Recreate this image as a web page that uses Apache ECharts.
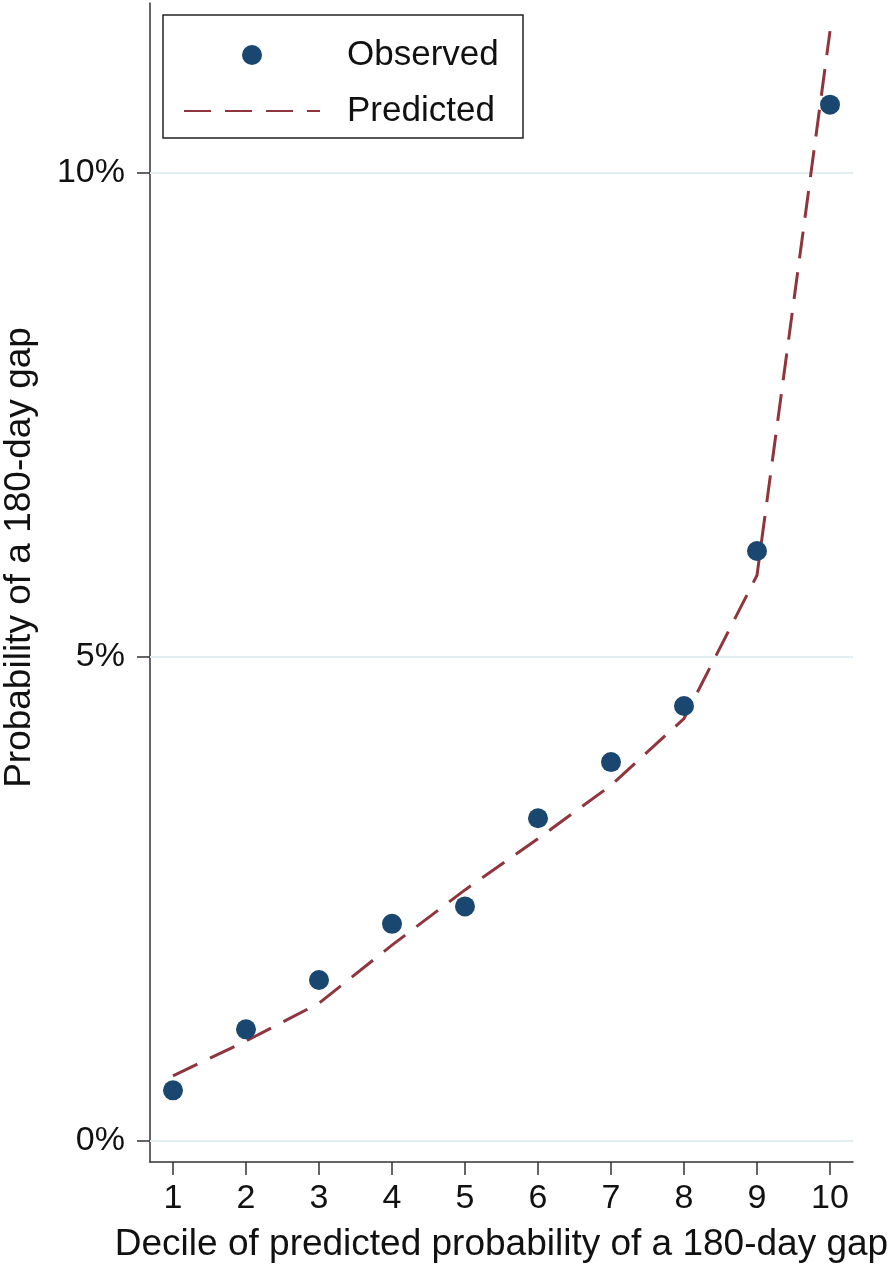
<!DOCTYPE html>
<html>
<head>
<meta charset="utf-8">
<script src="https://cdn.jsdelivr.net/npm/echarts@6/dist/echarts.min.js"></script>
<style>
  html, body { margin: 0; padding: 0; background: #fff; }
  #chart { width: 893px; height: 1264px; }
</style>
</head>
<body>
<div id="chart"></div>
<script>
// deciles of predicted probability
const deciles = [1, 2, 3, 4, 5, 6, 7, 8, 9, 10]
// observed share with a 180-day gap (%)
const observed = [0.52, 1.15, 1.66, 2.24, 2.42, 3.33, 3.91, 4.49, 6.09, 10.70]
// model prediction (%)
const predicted = [0.67, 1.03, 1.42, 2.02, 2.59, 3.12, 3.67, 4.36, 5.84, 11.46]
// y tick labels
const yTicks = [0, 5, 10]

const font = 'Liberation Sans, Arial, sans-serif'
const chart = echarts.init(document.getElementById('chart'))

const option = {
  animation: false,
  backgroundColor: '#fff',
  textStyle: { fontFamily: font, color: '#111' },
  grid: { left: 150, right: 40, top: 3, bottom: 102, outerBoundsMode: 'none' },
  graphic: [
    {
      type: 'rect',
      shape: { x: 163, y: 15, width: 360, height: 123 },
      style: { fill: 'none', stroke: '#222', lineWidth: 1.5 },
      z: 1
    }
  ],
  legend: {
    orient: 'vertical',
    left: 178,
    top: 30,
    itemWidth: 136,
    itemHeight: 20,
    itemGap: 16,
    textStyle: { fontFamily: font, fontSize: 35, color: '#111', lineHeight: 40, padding: [0, 0, 0, 22] },
    data: [
      'Observed',
      { name: 'Predicted', itemStyle: { opacity: 0 } }
    ]
  },
  xAxis: {
    type: 'value',
    min: 0.685,
    max: 10.315,
    name: 'Decile of predicted probability of a 180-day gap',
    nameLocation: 'middle',
    nameGap: 64,
    nameTextStyle: { fontFamily: font, fontSize: 37, color: '#111' },
    axisLine: { show: true, onZero: false, lineStyle: { color: '#333', width: 1.5 } },
    axisTick: { show: true, length: 13, customValues: deciles, lineStyle: { color: '#333', width: 1.5 } },
    axisLabel: { customValues: deciles, fontSize: 34, color: '#111', margin: 20, fontFamily: font },
    splitLine: { show: false }
  },
  yAxis: {
    type: 'value',
    min: -0.22,
    max: 11.75,
    name: 'Probability of a 180-day gap',
    nameLocation: 'middle',
    nameGap: 112,
    nameTextStyle: { fontFamily: font, fontSize: 37, color: '#111', padding: [0, 0, 0, 50] },
    axisLine: { show: true, onZero: false, lineStyle: { color: '#333', width: 1.5 } },
    axisTick: { show: true, length: 13, customValues: yTicks, lineStyle: { color: '#333', width: 1.5 } },
    axisLabel: {
      customValues: yTicks,
      fontSize: 34,
      color: '#111',
      margin: 25,
      fontFamily: font,
      formatter: v => v + '%'
    },
    splitLine: { show: false }
  },
  series: [
    {
      name: 'Observed',
      type: 'scatter',
      data: deciles.map((d, i) => [d, observed[i]]),
      symbol: 'circle',
      symbolSize: 20,
      itemStyle: { color: '#1a476f', opacity: 1 },
      z: 3
    },
    {
      name: 'Predicted',
      type: 'line',
      data: deciles.map((d, i) => [d, predicted[i]]),
      symbol: 'none',
      lineStyle: { color: '#90353b', width: 3, type: [27, 14] },
      itemStyle: { color: '#90353b' },
      z: 2,
      markLine: {
        silent: true,
        symbol: 'none',
        label: { show: false },
        lineStyle: { color: '#e4edf1', width: 2, type: 'solid' },
        z: 1,
        data: yTicks.map(v => ({ yAxis: v }))
      }
    }
  ]
}

chart.setOption(option)
</script>
</body>
</html>
